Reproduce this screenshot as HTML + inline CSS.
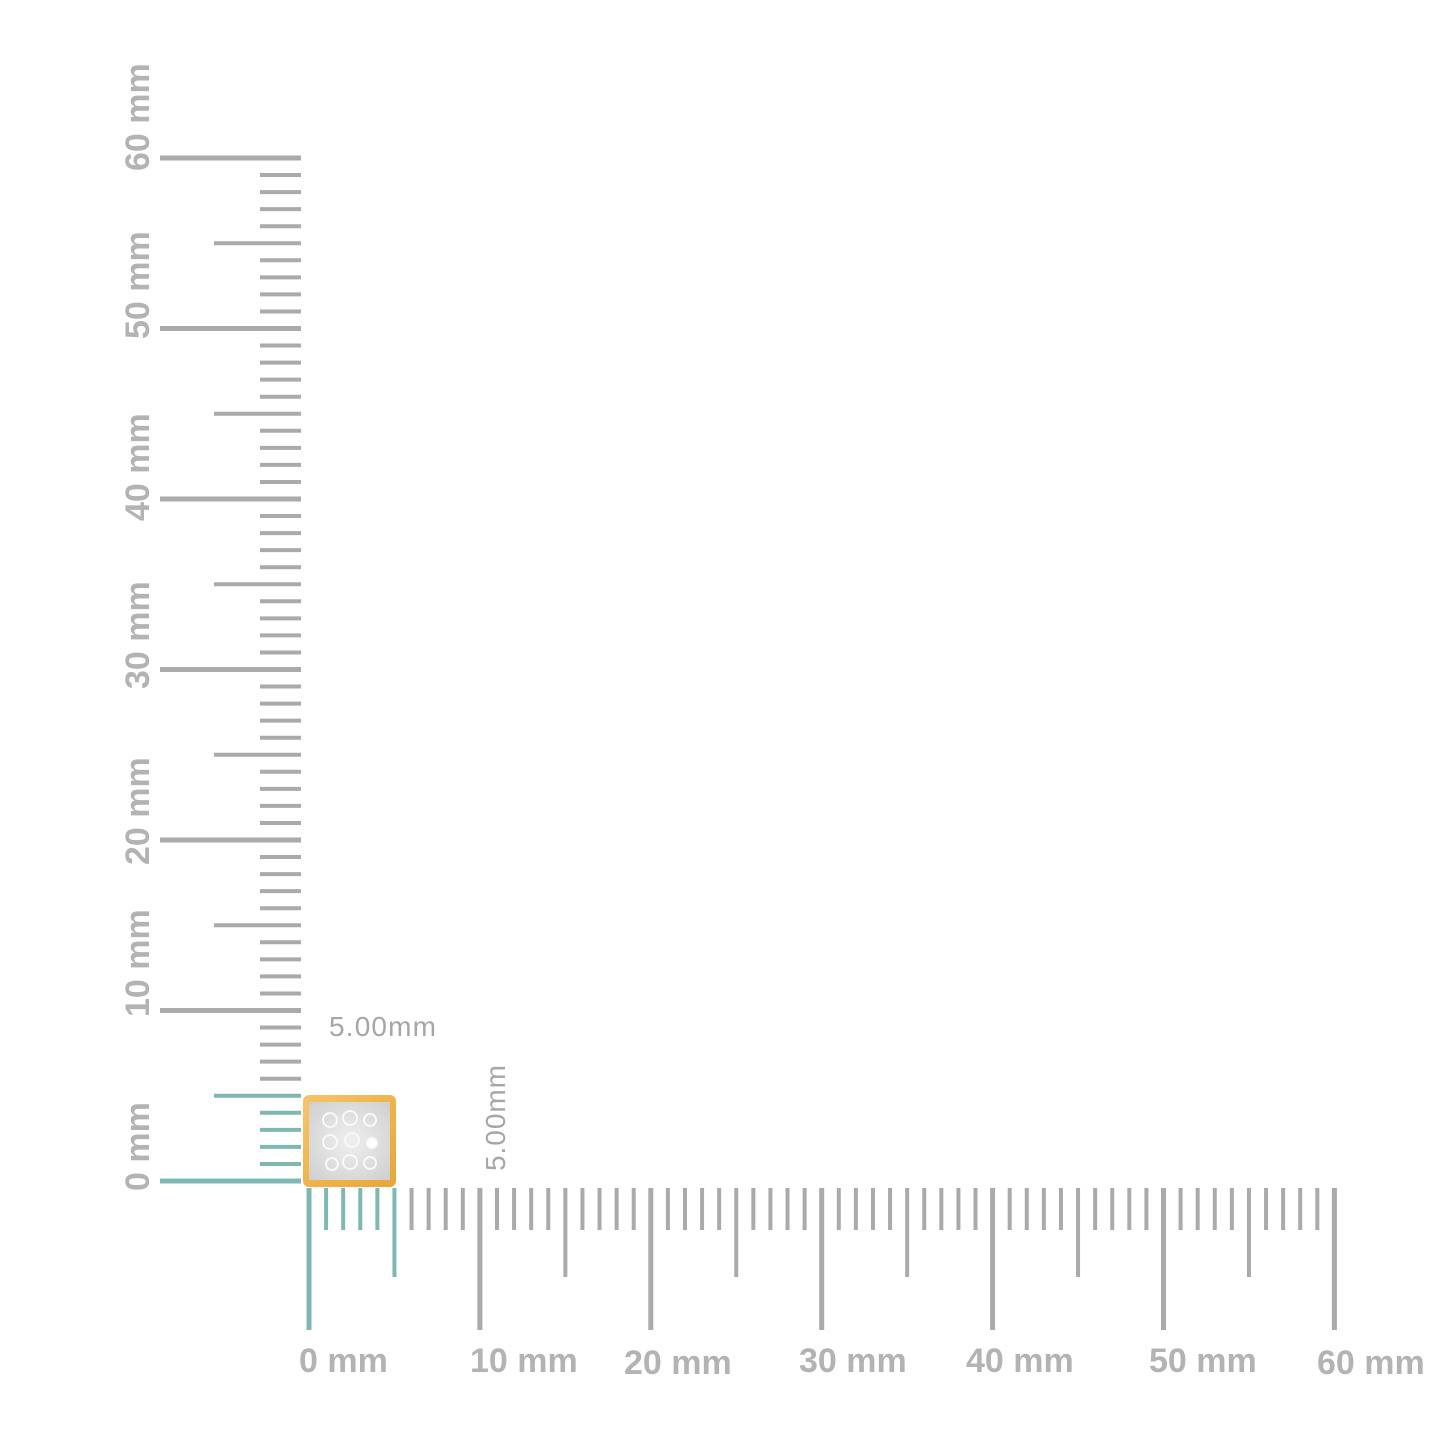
<!DOCTYPE html>
<html><head><meta charset="utf-8"><style>
html,body{margin:0;padding:0;background:#fff;}
svg{display:block;}
text{font-family:"Liberation Sans",sans-serif;}
</style></head><body>
<svg id="s" width="1445" height="1445" viewBox="0 0 1445 1445" xmlns="http://www.w3.org/2000/svg">
<defs>
<linearGradient id="g" x1="0" y1="0" x2="1" y2="1">
<stop offset="0" stop-color="#f7c56a"/><stop offset="0.5" stop-color="#f0b44c"/><stop offset="1" stop-color="#e8a63a"/>
</linearGradient>
<radialGradient id="sv" cx="0.5" cy="0.5" r="0.7">
<stop offset="0" stop-color="#efefef"/><stop offset="1" stop-color="#cfcfcf"/>
</radialGradient>
</defs>
<g id="ticks"></g>
<rect x="303" y="1095" width="93" height="92" rx="6" fill="url(#g)"/>
<rect x="309" y="1102" width="81" height="78" fill="url(#sv)"/>
<g fill="none" stroke="#f8f8f8" stroke-width="2">
<circle cx="330" cy="1120" r="7"/><circle cx="350" cy="1118" r="7"/><circle cx="370" cy="1120" r="6"/>
<circle cx="330" cy="1142" r="7"/><circle cx="352" cy="1140" r="7"/><circle cx="372" cy="1143" r="5" fill="#fff"/>
<circle cx="332" cy="1164" r="6"/><circle cx="350" cy="1162" r="7"/><circle cx="370" cy="1163" r="6"/>
</g>
<g fill="#b3b3b3" font-weight="bold" font-size="34">
<text x="299" y="1372">0 mm</text>
<text x="470" y="1372">10 mm</text>
<text x="624" y="1374">20 mm</text>
<text x="799" y="1372">30 mm</text>
<text x="966" y="1372">40 mm</text>
<text x="1149" y="1372">50 mm</text>
<text x="1317" y="1374">60 mm</text>
<text transform="translate(149,1191) rotate(-90)">0 mm</text>
<text transform="translate(149,1017) rotate(-90)">10 mm</text>
<text transform="translate(149,865) rotate(-90)">20 mm</text>
<text transform="translate(149,689) rotate(-90)">30 mm</text>
<text transform="translate(149,521) rotate(-90)">40 mm</text>
<text transform="translate(149,339) rotate(-90)">50 mm</text>
<text transform="translate(149,171) rotate(-90)">60 mm</text>
</g>
<text x="329" y="1036" font-size="28" fill="#a6a6a6" textLength="107">5.00mm</text>
<text transform="translate(505,1171) rotate(-90)" font-size="28" fill="#a6a6a6" textLength="106">5.00mm</text>
</svg>
<script>
var g=document.getElementById('ticks'),h='';
var gray='#aaaaaa',teal='#7fb8b2';
for(var i=0;i<=60;i++){
 var y=1181-i*17.05, x0, c=i<=5?teal:gray, w;
 if(i%10==0){x0=160;w=5}else if(i%5==0){x0=214;w=4}else{x0=260;w=4}
 h+='<line x1="'+x0+'" y1="'+y+'" x2="301" y2="'+y+'" stroke="'+c+'" stroke-width="'+w+'"/>';
 var x=309+i*17.09, y1;
 if(i%10==0){y1=1330}else if(i%5==0){y1=1277}else{y1=1230}
 h+='<line x1="'+x+'" y1="1188" x2="'+x+'" y2="'+y1+'" stroke="'+c+'" stroke-width="'+w+'"/>';
}
g.innerHTML=h;
</script>
</body></html>
